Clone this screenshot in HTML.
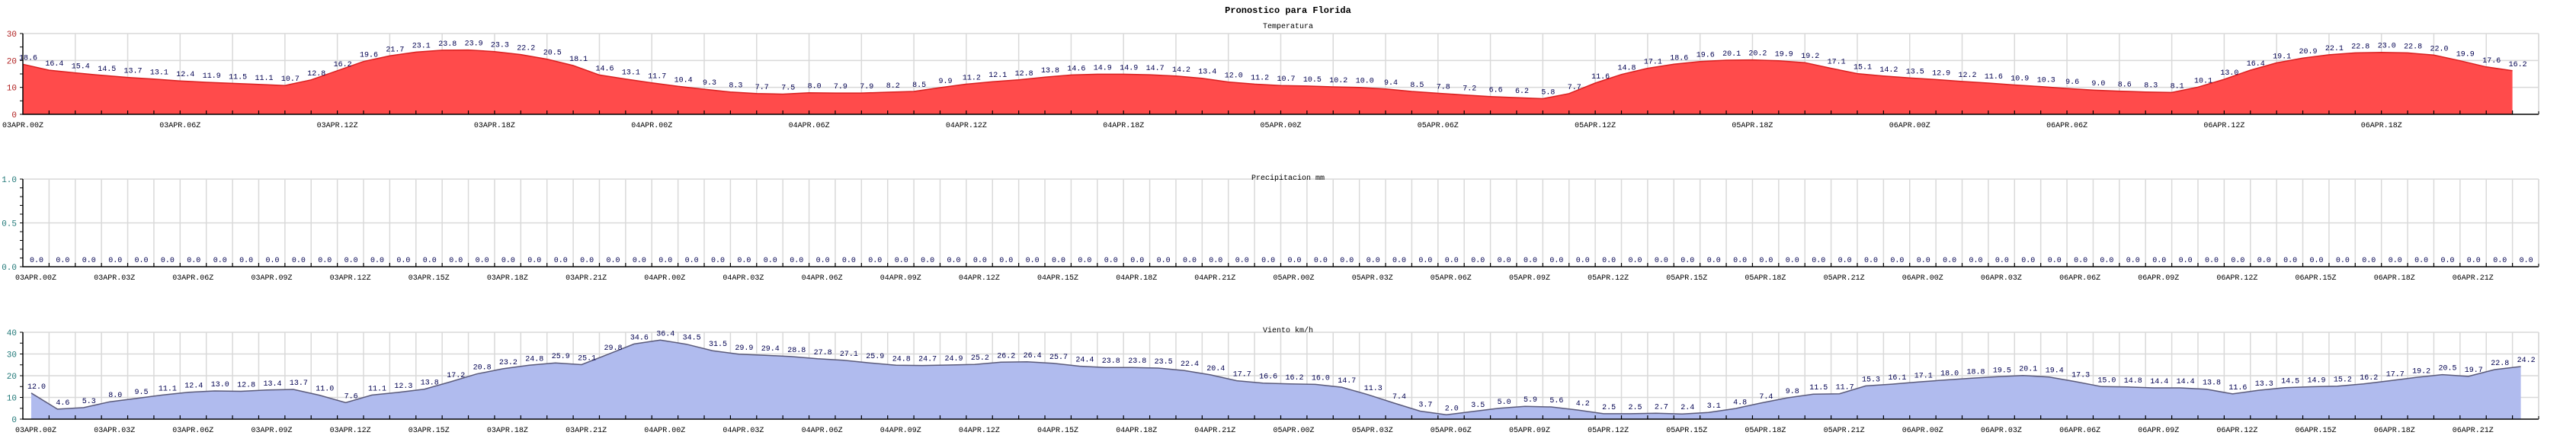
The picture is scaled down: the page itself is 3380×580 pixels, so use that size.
<!DOCTYPE html>
<html><head><meta charset="utf-8"><style>
html,body{margin:0;padding:0;background:#fff;}
svg{display:block;font-family:"Liberation Mono","DejaVu Sans Mono",monospace;}
</style></head>
<body>
<svg id="chart" width="3380" height="580" viewBox="0 0 3380 580" xmlns="http://www.w3.org/2000/svg">
<text x="1690" y="17" font-size="12" font-weight="bold" text-anchor="middle">Pronostico para Florida</text>
<text x="1690" y="37" font-size="10" text-anchor="middle">Temperatura</text>
<g id="temp"></g>
<g id="precip"></g>
<g id="wind"></g>
<text x="1690" y="236" font-size="10" text-anchor="middle">Precipitacion mm</text>
<text x="1690" y="436" font-size="10" text-anchor="middle">Viento km/h</text>
</svg>
<script>
const days = ["03APR","04APR","05APR","06APR"];
const tempValues = [18.6,16.4,15.4,14.5,13.7,13.1,12.4,11.9,11.5,11.1,10.7,12.8,16.2,19.6,21.7,23.1,23.8,23.9,23.3,22.2,20.5,18.1,14.6,13.1,11.7,10.4,9.3,8.3,7.7,7.5,8.0,7.9,7.9,8.2,8.5,9.9,11.2,12.1,12.8,13.8,14.6,14.9,14.9,14.7,14.2,13.4,12.0,11.2,10.7,10.5,10.2,10.0,9.4,8.5,7.8,7.2,6.6,6.2,5.8,7.7,11.6,14.8,17.1,18.6,19.6,20.1,20.2,19.9,19.2,17.1,15.1,14.2,13.5,12.9,12.2,11.6,10.9,10.3,9.6,9.0,8.6,8.3,8.1,10.1,13.0,16.4,19.1,20.9,22.1,22.8,23.0,22.8,22.0,19.9,17.6,16.2];
const precipValues = [0,0,0,0,0,0,0,0,0,0,0,0,0,0,0,0,0,0,0,0,0,0,0,0,0,0,0,0,0,0,0,0,0,0,0,0,0,0,0,0,0,0,0,0,0,0,0,0,0,0,0,0,0,0,0,0,0,0,0,0,0,0,0,0,0,0,0,0,0,0,0,0,0,0,0,0,0,0,0,0,0,0,0,0,0,0,0,0,0,0,0,0,0,0,0,0];
const windValues = [12.0,4.6,5.3,8.0,9.5,11.1,12.4,13.0,12.8,13.4,13.7,11.0,7.6,11.1,12.3,13.8,17.2,20.8,23.2,24.8,25.9,25.1,29.8,34.6,36.4,34.5,31.5,29.9,29.4,28.8,27.8,27.1,25.9,24.8,24.7,24.9,25.2,26.2,26.4,25.7,24.4,23.8,23.8,23.5,22.4,20.4,17.7,16.6,16.2,16.0,14.7,11.3,7.4,3.7,2.0,3.5,5.0,5.9,5.6,4.2,2.5,2.5,2.7,2.4,3.1,4.8,7.4,9.8,11.5,11.7,15.3,16.1,17.1,18.0,18.8,19.5,20.1,19.4,17.3,15.0,14.8,14.4,14.4,13.8,11.6,13.3,14.5,14.9,15.2,16.2,17.7,19.2,20.5,19.7,22.8,24.2];
const tempTicks = [0,10,20,30];
const precipTicks = [0.0,0.5,1.0];
const windTicks = [0,10,20,30,40];

const NS="http://www.w3.org/2000/svg";
const X0=30, X1=3331, NH=96, SLOT=(X1-X0)/NH;
function mk(parent,tag,attrs,text){const e=document.createElementNS(NS,tag);for(const k in attrs)e.setAttribute(k,attrs[k]);if(text!==undefined)e.textContent=text;parent.appendChild(e);return e;}
function hourLabel(h){const d=Math.floor(h/24),hh=h%24;return days[d]+"."+(hh<10?"0":"")+hh+"Z";}

function drawChart(g,cfg){
  const yTop=cfg.yTop,yBot=cfg.yBot,max=cfg.max;
  const yScale=v=>yBot-(v/max)*(yBot-yTop);
  const xScale=i=>X0+cfg.ptOff+i*SLOT;
  // vertical grid
  for(let h=cfg.gridStep;h<=NH;h+=cfg.gridStep){
    const x=X0+h*SLOT;
    const l=mk(g,"line",{x1:x,x2:x,y1:yTop,y2:yBot,stroke:"#d9d9d9","stroke-width":1.5});
    
    
  }
  // horizontal grid
  cfg.ticks.forEach(t=>{
    if(t===0)return;
    const y=yScale(t);
    const l=mk(g,"line",{x1:X0,x2:X1,y1:y,y2:y,stroke:"#d9d9d9","stroke-width":1.5});
    
    
  });
  // area
  const vals=cfg.values;
  if(cfg.fill){
    let d="M"+xScale(0)+","+yBot;
    vals.forEach((v,i)=>{d+=" L"+xScale(i).toFixed(1)+","+yScale(v).toFixed(1);});
    d+=" L"+xScale(vals.length-1).toFixed(1)+","+yBot+" Z";
    const a=mk(g,"path",{d:d,fill:cfg.fill,stroke:"none"});
    
    
    let ld="";
    vals.forEach((v,i)=>{ld+=(i?" L":"M")+xScale(i).toFixed(1)+","+yScale(v).toFixed(1);});
    const ln=mk(g,"path",{d:ld,fill:"none",stroke:cfg.line,"stroke-width":1.5});
    
    
  }
  // value labels
  vals.forEach((v,i)=>{
    const t=mk(g,"text",{x:(xScale(i)+7).toFixed(1),y:(yScale(v)-6).toFixed(1),"font-size":10,fill:"#000050","text-anchor":"middle"},v.toFixed(1));
    
    
  });
  // axes
  const ax=mk(g,"path",{d:"M"+X0+","+yTop+" L"+X0+","+yBot+" L"+X1+","+yBot,fill:"none",stroke:"#000","stroke-width":1.5});
  
  
  const rb=mk(g,"line",{x1:X1,x2:X1,y1:yTop,y2:yBot,stroke:"#d9d9d9","stroke-width":1.5});
  
  
  mk(g,"line",{x1:X1,x2:X1,y1:yBot-4,y2:yBot,stroke:"#000"});
  // bottom ticks every hour
  for(let h=1;h<NH;h++){
    const x=X0+h*SLOT;
    const tk=mk(g,"line",{x1:x,x2:x,y1:yBot-5,y2:yBot,stroke:"#000","stroke-width":1.2});
    
    
  }
  // minor y ticks
  for(let v=0;v<=max+1e-9;v+=cfg.minor){
    const y=yScale(v);
    mk(g,"line",{x1:X0-4,x2:X0,y1:y,y2:y,stroke:"#000","stroke-width":1});
  }
  // y tick labels
  cfg.ticks.forEach(t=>{
    const lb=mk(g,"text",{x:22,y:yScale(t)+4,"font-size":11,fill:cfg.tickColor,"text-anchor":"end"},cfg.tickFmt(t));
    
    
  });
  // x labels
  for(let h=0;h<NH;h+=cfg.labelStep){
    const lb=mk(g,"text",{x:(X0+h*SLOT+cfg.labelOff).toFixed(1),y:yBot+17,"font-size":10,fill:"#000","text-anchor":"middle"},hourLabel(h));
    
    
  }
}
drawChart(document.getElementById("temp"),{yTop:44,yBot:150,max:30,values:tempValues,ticks:tempTicks,minor:5,ptOff:0,gridStep:2,labelStep:6,labelOff:0,fill:"#ff4b4b",line:"#d82020",tickColor:"#b02020",tickFmt:t=>String(t)});
drawChart(document.getElementById("precip"),{yTop:235,yBot:350,max:1,values:precipValues,ticks:precipTicks,minor:0.1,ptOff:11,gridStep:1,labelStep:3,labelOff:17,fill:null,line:null,tickColor:"#207878",tickFmt:t=>t.toFixed(1)});
drawChart(document.getElementById("wind"),{yTop:436,yBot:550,max:40,values:windValues,ticks:windTicks,minor:5,ptOff:11,gridStep:1,labelStep:3,labelOff:17,fill:"#b0bbee",line:"#5a5a7a",tickColor:"#207878",tickFmt:t=>String(t)});
</script>
</body></html>
